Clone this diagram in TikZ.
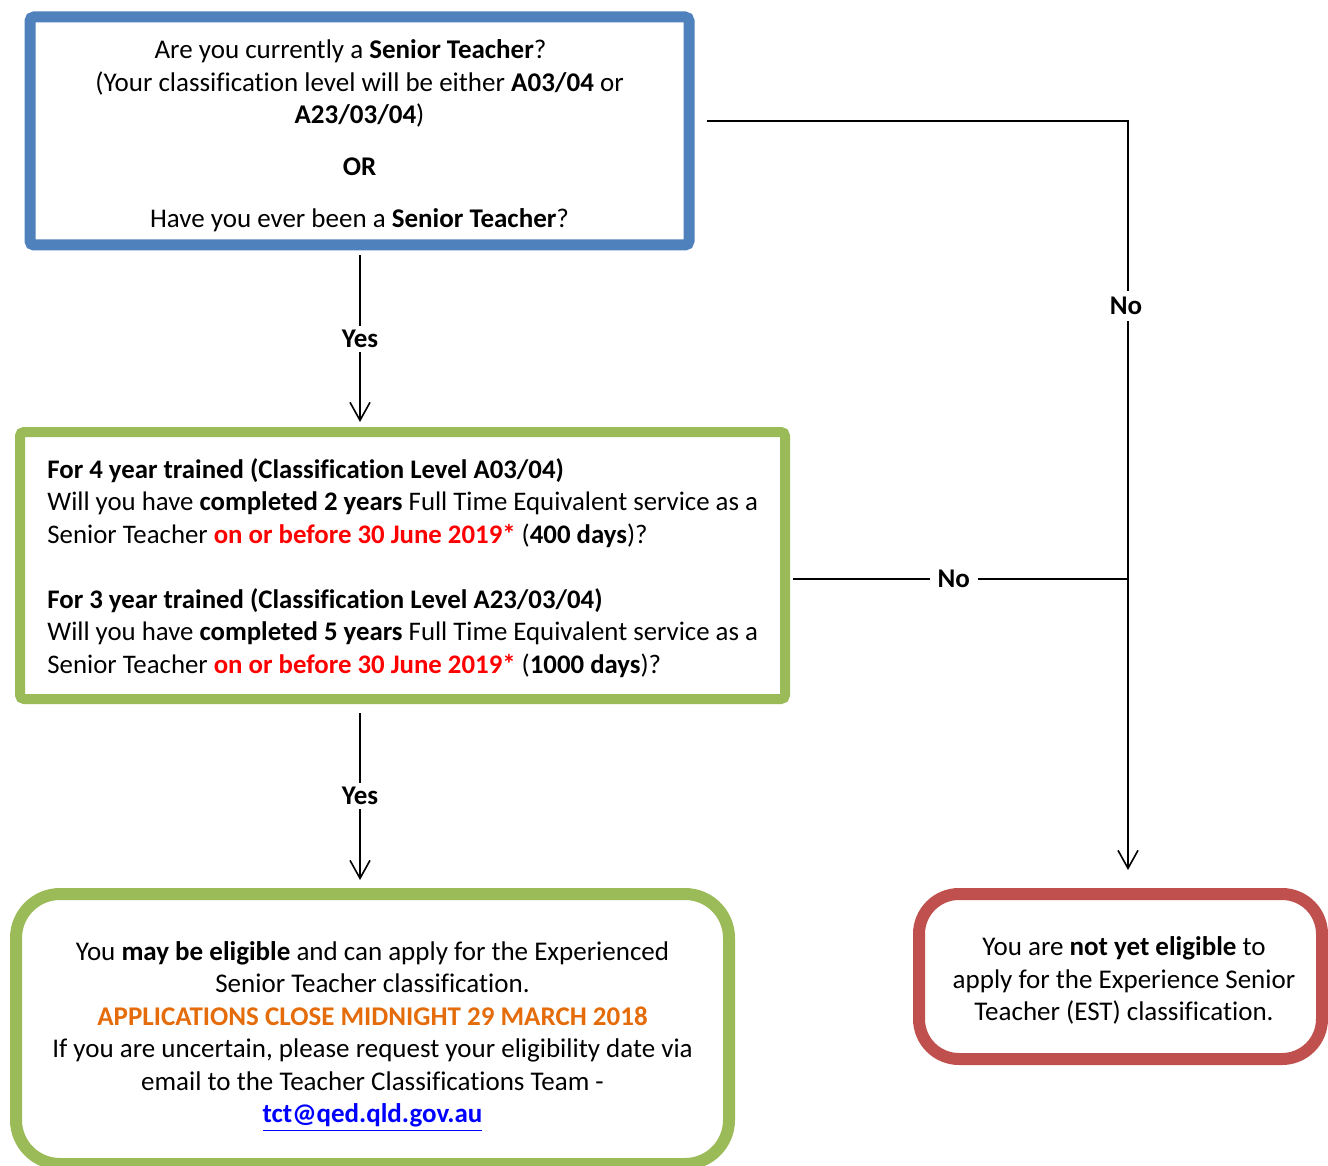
\documentclass[tikz,border=0pt]{standalone}
\usepackage{fontspec}
\setmainfont{Carlito}[Ligatures=NoCommon]
\usetikzlibrary{arrows.meta}
\definecolor{boxblue}{HTML}{4F81BD}
\definecolor{boxgreen}{HTML}{9BBB59}
\definecolor{boxred}{HTML}{C0504D}
\definecolor{txtorange}{HTML}{E46C0A}
\definecolor{txtred}{HTML}{FF0000}
\definecolor{linkblue}{HTML}{0000FF}
\begin{document}
\begin{tikzpicture}[x=0.5pt,y=-0.5pt,
  box/.style={draw, fill=white, inner sep=0pt},
  txt/.style={inner sep=0pt, align=center, font=\fontsize{13.5}{16.25}\selectfont},
  lbl/.style={fill=white, inner sep=2pt, font=\fontsize{13.5}{16.25}\selectfont\bfseries},
  conn/.style={line width=1pt, black},
  tip/.style={-{Straight Barb[length=9pt,width=10pt,line width=0.8pt]}}
]
\useasboundingbox (0,0) rectangle (1328,1166);

% boxes
\node[box, draw=boxblue, line width=5.5pt, rounded corners=2pt,
  minimum width=329.5pt, minimum height=114pt] (q1) at (359.5,131) {};
\node[txt] (q1txt) at (359.5,136)
  {Are you currently a \textbf{Senior Teacher}?\hspace*{9pt}\\
   (Your classification level will be either \textbf{A03/04} or\hspace*{6pt}\\
   \textbf{A23/03/04})\hspace*{10pt}\\[9.75pt]
   \textbf{OR}\\[9.75pt]
   Have you ever been a \textbf{Senior Teacher}?};

\node[box, draw=boxgreen, line width=5pt, rounded corners=2pt,
  minimum width=382.5pt, minimum height=133.5pt] (q2) at (402.5,565.5) {};
\node[txt, align=left, anchor=west, font=\fontsize{13.4}{16.25}\selectfont] (q2txt) at (47,568)
  {\textbf{For 4 year trained (Classification Level A03/04)}\\
   Will you have \textbf{completed 2 years} Full Time Equivalent service as a\\
   Senior Teacher \textcolor{txtred}{\textbf{on or before 30 June 2019*}} (\textbf{400 days})?\\[16.25pt]
   \textbf{For 3 year trained (Classification Level A23/03/04)}\\
   Will you have \textbf{completed 5 years} Full Time Equivalent service as a\\
   Senior Teacher \textcolor{txtred}{\textbf{on or before 30 June 2019*}} (\textbf{1000 days})?};

\node[box, draw=boxgreen, line width=6pt, rounded corners=22pt,
  minimum width=356.5pt, minimum height=135pt] (yes) at (372.5,1029) {};
\node[txt] (yestxt) at (372.5,1036.5)
  {You \textbf{may be eligible} and can apply for the Experienced\\
   Senior Teacher classification.\\
   \textcolor{txtorange}{\textbf{APPLICATIONS CLOSE MIDNIGHT 29 MARCH 2018}}\\
   If you are uncertain, please request your eligibility date via\\
   email to the Teacher Classifications Team -\\
   \textcolor{linkblue}{\textbf{\underline{tct@qed.qld.gov.au}}}};

\node[box, draw=boxred, line width=6pt, rounded corners=20pt,
  minimum width=201.5pt, minimum height=82.5pt] (no) at (1120.5,976.5) {};
\node[txt] (notxt) at (1124,980.5)
  {You are \textbf{not yet eligible} to\\
   apply for the Experience Senior\\
   Teacher (EST) classification.};

% connectors
\coordinate (ycol) at (360,0);
\draw[conn, tip, shorten <=2.5pt, shorten >=2.5pt] (q1.south -| ycol) -- (q2.north -| ycol)
  node[lbl, pos=0.5] (y1) {Yes};
\draw[conn, tip, shorten <=4.5pt, shorten >=4pt] (q2.south -| ycol) -- (yes.north -| ycol)
  node[lbl, pos=0.5] (y2) {Yes};

\coordinate (n1s) at (707,121);
\coordinate (ncorner) at (1128,121);
\coordinate (n2s) at (793,579);
\coordinate (njoin) at (1128,579);
\draw[conn, tip, shorten >=9pt] (n1s) -- (ncorner) -- (no.north -| ncorner);
\node[lbl, inner sep=3pt] (nolbl1) at (1126,306) {No};
\draw[conn] (n2s) -- (njoin) node[lbl, pos=0.48, inner sep=4pt] (nolbl2) {No};
\end{tikzpicture}
\end{document}
